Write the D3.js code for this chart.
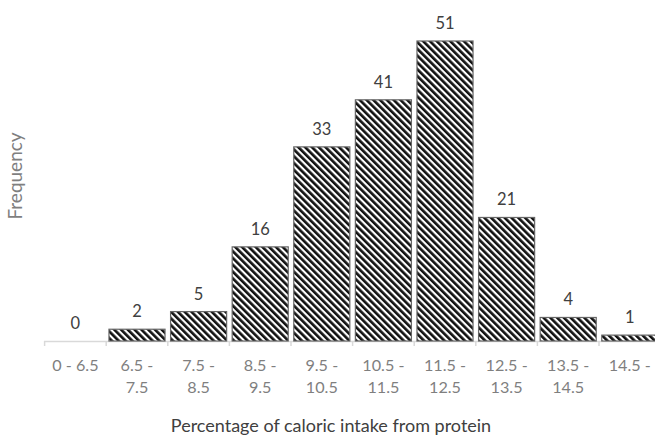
<!DOCTYPE html>
<html><head><meta charset="utf-8">
<script src="https://cdn.jsdelivr.net/npm/d3@7"></script>
<style>body{margin:0;background:#fff}svg{display:block}</style>
</head><body>
<svg id="c" width="655" height="437"></svg>
<script>
const categories = [["0 - 6.5"],["6.5 -","7.5"],["7.5 -","8.5"],["8.5 -","9.5"],["9.5 -","10.5"],["10.5 -","11.5"],["11.5 -","12.5"],["12.5 -","13.5"],["13.5 -","14.5"],["14.5 -"]];
const frequency = [0,2,5,16,33,41,51,21,4,1];
const xTitle = "Percentage of caloric intake from protein";
const yTitle = "Frequency";

const svg = d3.select("#c");
const font = "Lato, 'Open Sans', sans-serif";
const defs = svg.append("defs");
const P = 4.8;
const pat = defs.append("pattern").attr("id","hatch").attr("patternUnits","userSpaceOnUse")
  .attr("width",P).attr("height",P).attr("patternTransform","rotate(-45)");
pat.append("rect").attr("width",P).attr("height",P).attr("fill","#fff");
pat.append("rect").attr("width",P*0.55).attr("height",P).attr("fill","#111");

const idx = categories.map((d,i)=>i);
const x = d3.scaleBand().domain(idx).range([44.6, 660.6]).paddingInner(0.09).paddingOuter(0.045);
const y = d3.scaleLinear().domain([0,51]).range([341,41]);

// axis
const g = svg.append("g");
g.append("line").attr("x1",44).attr("x2",655).attr("y1",341.5).attr("y2",341.5).attr("stroke","#d9d9d9").attr("stroke-width",1.5);
const step = x.step();
d3.range(categories.length+1).forEach(i=>{
  const xx = 44.6 + i*step;
  g.append("line").attr("x1",xx).attr("x2",xx).attr("y1",341).attr("y2",346).attr("stroke","#d9d9d9").attr("stroke-width",1.5);
});

svg.append("g").selectAll("rect").data(frequency).join("rect")
  .attr("x",(d,i)=>x(i)).attr("width",x.bandwidth())
  .attr("y",d=>y(d)).attr("height",d=>y(0)-y(d))
  .attr("fill","url(#hatch)").attr("stroke","#666").attr("stroke-width",1.2)
  .attr("display",d=>d>0?null:"none");

svg.append("g").selectAll("text").data(frequency).join("text")
  .attr("x",(d,i)=>x(i)+x.bandwidth()/2).attr("y",d=>y(d)-12)
  .attr("text-anchor","middle").attr("font-family",font).attr("font-size",16.5).attr("fill","#404040")
  .text(d=>d);

const tl = svg.append("g").selectAll("text").data(categories).join("text")
  .attr("x",(d,i)=>x(i)+x.bandwidth()/2).attr("y",371)
  .attr("text-anchor","middle").attr("font-family",font).attr("font-size",16.2).attr("fill","#7f7f7f");
tl.each(function(d){
  const t=d3.select(this);
  d.forEach((s,j)=>t.append("tspan").attr("x",t.attr("x")).attr("dy",j?22:0).text(s));
});

svg.append("text").attr("x",331).attr("y",432).attr("text-anchor","middle")
  .attr("font-family",font).attr("font-size",18).attr("fill","#404040").text(xTitle);
svg.append("text").attr("transform","translate(22,176) rotate(-90)").attr("text-anchor","middle")
  .attr("font-family",font).attr("font-size",19).attr("fill","#7f7f7f").text(yTitle);
</script>
</body></html>
